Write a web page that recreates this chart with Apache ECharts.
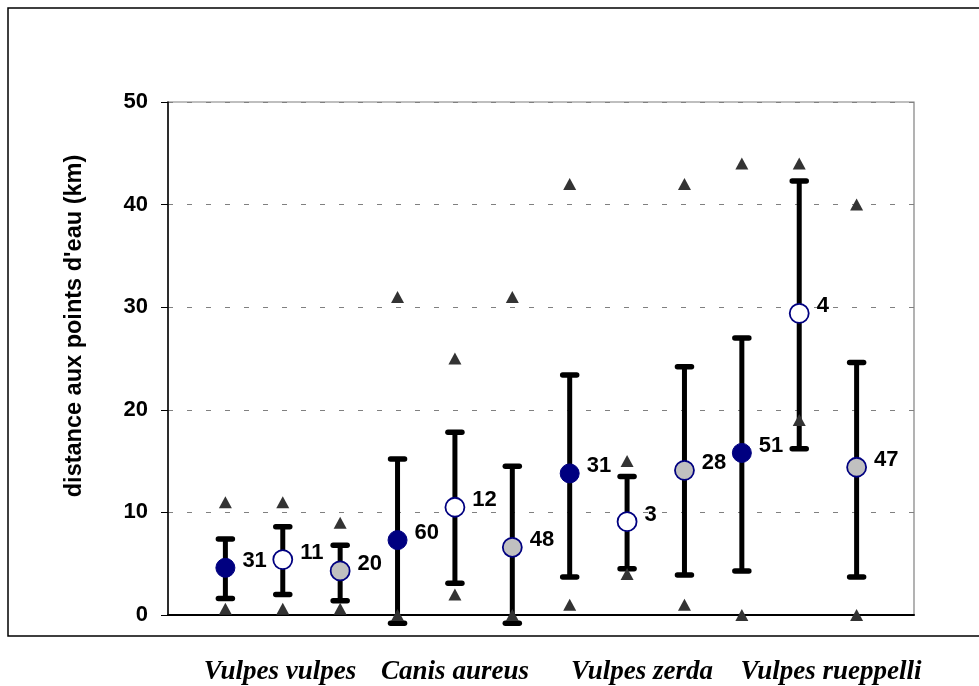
<!DOCTYPE html>
<html>
<head>
<meta charset="utf-8">
<script src="https://cdn.jsdelivr.net/npm/echarts@6/dist/echarts.min.js"></script>
<style>
html,body{margin:0;padding:0;background:#fff;}
#chart{width:979px;height:686px;}
</style>
</head>
<body>
<div id="chart"></div>
<script>
// ---- data ----
const species = ['Vulpes vulpes', 'Canis aureus', 'Vulpes zerda', 'Vulpes rueppelli'];
const yTicks = [0, 10, 20, 30, 40, 50];
const yTitle = "distance aux points d'eau (km)";
// 12 groups (3 per species), in plotting order
const means  = [4.6, 5.4, 4.3, 7.3, 10.5, 6.6, 13.8, 9.1, 14.1, 15.8, 29.4, 14.4];
const upper  = [7.4, 8.6, 6.8, 15.2, 17.8, 14.5, 23.4, 13.5, 24.2, 27.0, 42.3, 24.6];
const lower  = [1.6, 2.0, 1.4, -0.8, 3.1, -0.8, 3.7, 4.5, 3.9, 4.3, 16.2, 3.7];
const maxima = [11, 11, 9, 31, 25, 31, 42, 15, 42, 44, 44, 40];
const minima = [0.6, 0.6, 0.6, 0, 2, 0, 1, 4, 1, 0, 19, 0];
const counts = [31, 11, 20, 60, 12, 48, 31, 3, 28, 51, 4, 47];

// ---- build ----
const FONT = "'Liberation Sans', Arial, sans-serif";
const xs = means.map((_, i) => i + 1);

const errData = xs.map((x, i) => [x, lower[i], upper[i]]);
const triData = [];
xs.forEach((x, i) => { triData.push([x, maxima[i]]); triData.push([x, minima[i]]); });

const markerStyles = [
  { color: '#000080', borderColor: '#000080', borderWidth: 1, opacity: 1 },
  { color: '#ffffff', borderColor: '#000080', borderWidth: 1.8, opacity: 1 },
  { color: '#c0c0c0', borderColor: '#000080', borderWidth: 1.8, opacity: 1 }
];

const meanSeries = markerStyles.map((st, k) => ({
  type: 'scatter',
  z: 5,
  clip: false,
  symbol: 'circle',
  symbolSize: 19,
  itemStyle: st,
  emphasis: { disabled: true },
  label: {
    show: true,
    position: 'right',
    distance: 7,
    offset: [0, -7],
    color: '#000',
    opacity: 1,
    fontFamily: FONT,
    fontWeight: 'bold',
    fontSize: 22,
    formatter: p => String(p.value[2])
  },
  data: xs.map((x, i) => [x, means[i], counts[i]]).filter((_, i) => i % 3 === k)
}));

const chart = echarts.init(document.getElementById('chart'), null, { renderer: 'canvas' });

chart.setOption({
  backgroundColor: '#fff',
  animation: false,
  grid: {
    left: 168, top: 102, width: 746, height: 513,
    show: true, borderColor: '#808080', borderWidth: 1.2, backgroundColor: 'transparent'
  },
  xAxis: {
    type: 'value', min: 0, max: 13, interval: 1,
    axisLine: { show: true, onZero: false, lineStyle: { color: '#000', width: 2 } },
    axisTick: { show: false },
    axisLabel: { show: false },
    splitLine: { show: false }
  },
  yAxis: {
    type: 'value', min: yTicks[0], max: yTicks[yTicks.length - 1], interval: 10,
    axisLine: { show: true, lineStyle: { color: '#000', width: 1.5 } },
    axisTick: { show: true, inside: false, length: 7, lineStyle: { color: '#000', width: 1 } },
    axisLabel: {
      color: '#000', fontFamily: FONT, fontWeight: 'bold', fontSize: 22, margin: 20,
      formatter: v => (yTicks.indexOf(v) >= 0 ? String(v) : '')
    },
    splitLine: {
      show: true,
      lineStyle: { color: '#808080', width: 1, type: [5, 14] }
    }
  },
  graphic: [
    {
      type: 'rect', silent: true, z: 0,
      shape: { x: 8, y: 8, width: 990, height: 628 },
      style: { fill: 'none', stroke: '#000', lineWidth: 1.5 }
    },
    {
      type: 'text', silent: true,
      x: 75, y: 326, rotation: Math.PI / 2,
      style: {
        text: yTitle, fill: '#000', font: "bold 23.5px 'Liberation Sans', Arial, sans-serif",
        textAlign: 'center', textVerticalAlign: 'middle'
      }
    }
  ].concat(species.map((s, i) => ({
    type: 'text', silent: true,
    x: [280, 455, 642, 831][i], y: 672,
    style: {
      text: s, fill: '#000', font: "italic bold 27px 'Liberation Serif', 'Times New Roman', serif",
      textAlign: 'center', textVerticalAlign: 'middle'
    }
  }))),
  series: [
    {
      type: 'custom',
      z: 2,
      clip: false,
      renderItem: function (params, api) {
        const x = api.value(0);
        const pLo = api.coord([x, api.value(1)]);
        const pHi = api.coord([x, api.value(2)]);
        const hw = 7;
        const st = { stroke: '#000', lineWidth: 5.5, lineCap: 'round' };
        return {
          type: 'group',
          children: [
            { type: 'line', shape: { x1: pLo[0], y1: pLo[1], x2: pHi[0], y2: pHi[1] }, style: { stroke: '#000', lineWidth: 5 } },
            { type: 'line', shape: { x1: pHi[0] - hw, y1: pHi[1], x2: pHi[0] + hw, y2: pHi[1] }, style: st },
            { type: 'line', shape: { x1: pLo[0] - hw, y1: pLo[1], x2: pLo[0] + hw, y2: pLo[1] }, style: st }
          ]
        };
      },
      encode: { x: 0, y: [1, 2] },
      data: errData
    },
    {
      type: 'scatter',
      z: 4,
      clip: false,
      symbol: 'triangle',
      symbolSize: [13, 12],
      itemStyle: { color: '#333333', opacity: 1 },
      emphasis: { disabled: true },
      data: triData
    }
  ].concat(meanSeries)
});
</script>
</body>
</html>
